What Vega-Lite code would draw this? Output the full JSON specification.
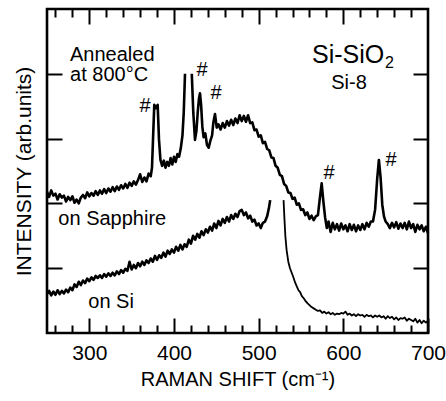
{
"$schema": "https://vega.github.io/schema/vega-lite/v6.json",
"width": 381, "height": 324,
"autosize": {"type": "none"},
"padding": {"left": 47, "top": 9, "right": 18, "bottom": 68},
"background": "white",
"config": {
  "view": {"stroke": null},
  "axis": {"domain": false, "grid": false, "tickColor": "black", "tickWidth": 2, "labelFont": "Liberation Sans", "titleFont": "Liberation Sans", "labelColor": "black", "titleColor": "black", "titleFontWeight": "normal", "labelFlush": false, "labelOverlap": false, "labelBound": false},
  "text": {"font": "Liberation Sans", "color": "black"}
},
"datasets": {
  "sap": [
    {"x":250,"y":2.18,"s":"a"},{"x":252.5,"y":2.10,"s":"a"},{"x":255,"y":2.20,"s":"a"},{"x":257.5,"y":2.12,"s":"a"},{"x":260,"y":2.15,"s":"a"},{"x":262.5,"y":2.06,"s":"a"},{"x":265,"y":2.14,"s":"a"},{"x":267.5,"y":2.09,"s":"a"},{"x":270,"y":2.12,"s":"a"},{"x":272.5,"y":2.03,"s":"a"},{"x":275,"y":2.10,"s":"a"},{"x":277.5,"y":2.05,"s":"a"},{"x":280,"y":2.11,"s":"a"},{"x":282.5,"y":2.01,"s":"a"},{"x":285,"y":2.06,"s":"a"},{"x":287.5,"y":2.00,"s":"a"},{"x":290,"y":2.09,"s":"a"},{"x":292.5,"y":2.13,"s":"a"},{"x":295,"y":2.08,"s":"a"},{"x":297.5,"y":2.17,"s":"a"},{"x":300,"y":2.11,"s":"a"},{"x":302.5,"y":2.16,"s":"a"},{"x":305,"y":2.12,"s":"a"},{"x":307.5,"y":2.19,"s":"a"},{"x":310,"y":2.13,"s":"a"},{"x":312.5,"y":2.20,"s":"a"},{"x":315,"y":2.15,"s":"a"},{"x":317.5,"y":2.22,"s":"a"},{"x":320,"y":2.16,"s":"a"},{"x":322.5,"y":2.23,"s":"a"},{"x":325,"y":2.18,"s":"a"},{"x":327.5,"y":2.25,"s":"a"},{"x":330,"y":2.19,"s":"a"},{"x":332.5,"y":2.26,"s":"a"},{"x":335,"y":2.21,"s":"a"},{"x":337.5,"y":2.28,"s":"a"},{"x":340,"y":2.23,"s":"a"},{"x":342.5,"y":2.30,"s":"a"},{"x":345,"y":2.24,"s":"a"},{"x":347.5,"y":2.32,"s":"a"},{"x":350,"y":2.27,"s":"a"},{"x":352.5,"y":2.34,"s":"a"},{"x":355,"y":2.29,"s":"a"},{"x":357.5,"y":2.36,"s":"a"},{"x":360,"y":2.45,"s":"a"},{"x":362.5,"y":2.33,"s":"a"},{"x":365,"y":2.40,"s":"a"},{"x":367.5,"y":2.34,"s":"a"},{"x":370,"y":2.46,"s":"a"},{"x":372.5,"y":2.42,"s":"a"},{"x":374,"y":2.55,"s":"a"},{"x":375.2,"y":2.98,"s":"a"},{"x":376.7,"y":3.52,"s":"a"},{"x":378.7,"y":3.47,"s":"a"},{"x":380.7,"y":3.52,"s":"a"},{"x":382.3,"y":2.98,"s":"a"},{"x":384,"y":2.67,"s":"a"},{"x":386,"y":2.58,"s":"a"},{"x":388,"y":2.66,"s":"a"},{"x":390,"y":2.55,"s":"a"},{"x":392,"y":2.64,"s":"a"},{"x":394,"y":2.58,"s":"a"},{"x":396,"y":2.70,"s":"a"},{"x":398,"y":2.60,"s":"a"},{"x":400,"y":2.72,"s":"a"},{"x":402,"y":2.64,"s":"a"},{"x":404,"y":2.76,"s":"a"},{"x":406,"y":2.72,"s":"a"},{"x":408,"y":2.85,"s":"a"},{"x":410,"y":3.05,"s":"a"},{"x":411.5,"y":3.40,"s":"a"},{"x":413,"y":4.00,"s":"a"},
    {"x":421,"y":4.00,"s":"b"},{"x":422.8,"y":3.40,"s":"b"},{"x":424.8,"y":2.98,"s":"b"},{"x":426.5,"y":3.12,"s":"b"},{"x":428,"y":3.40,"s":"b"},{"x":429.5,"y":3.62,"s":"b"},{"x":430.7,"y":3.70,"s":"b"},{"x":432,"y":3.52,"s":"b"},{"x":433.5,"y":3.18,"s":"b"},{"x":435,"y":3.02,"s":"b"},{"x":437,"y":3.08,"s":"b"},{"x":439,"y":2.90,"s":"b"},{"x":441,"y":2.86,"s":"b"},{"x":443,"y":2.97,"s":"b"},{"x":445,"y":3.05,"s":"b"},{"x":446.5,"y":3.25,"s":"b"},{"x":448.4,"y":3.38,"s":"b"},{"x":450.5,"y":3.17,"s":"b"},{"x":452.5,"y":3.22,"s":"b"},{"x":455,"y":3.14,"s":"b"},{"x":457.5,"y":3.24,"s":"b"},{"x":460,"y":3.17,"s":"b"},{"x":462.5,"y":3.27,"s":"b"},{"x":465,"y":3.20,"s":"b"},{"x":467.5,"y":3.29,"s":"b"},{"x":470,"y":3.21,"s":"b"},{"x":472.5,"y":3.31,"s":"b"},{"x":475,"y":3.24,"s":"b"},{"x":477.5,"y":3.36,"s":"b"},{"x":480,"y":3.27,"s":"b"},{"x":482.5,"y":3.35,"s":"b"},{"x":485,"y":3.26,"s":"b"},{"x":487.5,"y":3.36,"s":"b"},{"x":490,"y":3.24,"s":"b"},{"x":492.5,"y":3.25,"s":"b"},{"x":495,"y":3.13,"s":"b"},{"x":497.5,"y":3.14,"s":"b"},{"x":500,"y":3.03,"s":"b"},{"x":502.5,"y":3.05,"s":"b"},{"x":505,"y":2.93,"s":"b"},{"x":507.5,"y":2.95,"s":"b"},{"x":510,"y":2.84,"s":"b"},{"x":512.5,"y":2.82,"s":"b"},{"x":515,"y":2.71,"s":"b"},{"x":517.5,"y":2.70,"s":"b"},{"x":520,"y":2.58,"s":"b"},{"x":522.5,"y":2.55,"s":"b"},{"x":525,"y":2.44,"s":"b"},{"x":527.5,"y":2.42,"s":"b"},{"x":530,"y":2.30,"s":"b"},{"x":532.5,"y":2.27,"s":"b"},{"x":535,"y":2.17,"s":"b"},{"x":537.5,"y":2.16,"s":"b"},{"x":540,"y":2.07,"s":"b"},{"x":542.5,"y":2.09,"s":"b"},{"x":545,"y":1.98,"s":"b"},{"x":547.5,"y":2.00,"s":"b"},{"x":550,"y":1.90,"s":"b"},{"x":552.5,"y":1.91,"s":"b"},{"x":555,"y":1.82,"s":"b"},{"x":557.5,"y":1.86,"s":"b"},{"x":560,"y":1.76,"s":"b"},{"x":562.5,"y":1.81,"s":"b"},{"x":565,"y":1.74,"s":"b"},{"x":567.5,"y":1.80,"s":"b"},{"x":570,"y":1.82,"s":"b"},{"x":572,"y":2.05,"s":"b"},{"x":574.4,"y":2.31,"s":"b"},{"x":576.5,"y":2.02,"s":"b"},{"x":578.5,"y":1.78,"s":"b"},{"x":580.5,"y":1.62,"s":"b"},{"x":582.5,"y":1.72,"s":"b"},{"x":585,"y":1.56,"s":"b"},{"x":587.5,"y":1.70,"s":"b"},{"x":590,"y":1.60,"s":"b"},{"x":592.5,"y":1.68,"s":"b"},{"x":595,"y":1.58,"s":"b"},{"x":597.5,"y":1.69,"s":"b"},{"x":600,"y":1.60,"s":"b"},{"x":602.5,"y":1.66,"s":"b"},{"x":605,"y":1.57,"s":"b"},{"x":607.5,"y":1.68,"s":"b"},{"x":610,"y":1.59,"s":"b"},{"x":612.5,"y":1.67,"s":"b"},{"x":615,"y":1.57,"s":"b"},{"x":617.5,"y":1.66,"s":"b"},{"x":620,"y":1.59,"s":"b"},{"x":622.5,"y":1.68,"s":"b"},{"x":625,"y":1.60,"s":"b"},{"x":627.5,"y":1.70,"s":"b"},{"x":630,"y":1.64,"s":"b"},{"x":632.5,"y":1.72,"s":"b"},{"x":635,"y":1.72,"s":"b"},{"x":637.5,"y":1.90,"s":"b"},{"x":640,"y":2.38,"s":"b"},{"x":642,"y":2.67,"s":"b"},{"x":644,"y":2.40,"s":"b"},{"x":646,"y":1.98,"s":"b"},{"x":648,"y":1.80,"s":"b"},{"x":650,"y":1.72,"s":"b"},{"x":652.5,"y":1.68,"s":"b"},{"x":655,"y":1.62,"s":"b"},{"x":657.5,"y":1.70,"s":"b"},{"x":660,"y":1.63,"s":"b"},{"x":662.5,"y":1.71,"s":"b"},{"x":665,"y":1.61,"s":"b"},{"x":667.5,"y":1.69,"s":"b"},{"x":670,"y":1.62,"s":"b"},{"x":672.5,"y":1.70,"s":"b"},{"x":675,"y":1.60,"s":"b"},{"x":677.5,"y":1.72,"s":"b"},{"x":680,"y":1.62,"s":"b"},{"x":682.5,"y":1.68,"s":"b"},{"x":685,"y":1.56,"s":"b"},{"x":687.5,"y":1.67,"s":"b"},{"x":690,"y":1.60,"s":"b"},{"x":692.5,"y":1.66,"s":"b"},{"x":695,"y":1.57,"s":"b"},{"x":697.5,"y":1.64,"s":"b"},{"x":700,"y":1.54,"s":"b"}
  ],
  "si1": [
    {"x":250,"y":0.60},{"x":252.5,"y":0.65},{"x":255,"y":0.58},{"x":257.5,"y":0.64},{"x":260,"y":0.59},{"x":262.5,"y":0.66},{"x":265,"y":0.60},{"x":267.5,"y":0.65},{"x":270,"y":0.61},{"x":272.5,"y":0.67},{"x":275,"y":0.63},{"x":277.5,"y":0.70},{"x":280,"y":0.66},{"x":282.5,"y":0.75},{"x":285,"y":0.71},{"x":287.5,"y":0.79},{"x":290,"y":0.74},{"x":292.5,"y":0.81},{"x":295,"y":0.77},{"x":297.5,"y":0.84},{"x":300,"y":0.80},{"x":302.5,"y":0.86},{"x":305,"y":0.82},{"x":307.5,"y":0.88},{"x":310,"y":0.85},{"x":312.5,"y":0.89},{"x":315,"y":0.85},{"x":317.5,"y":0.91},{"x":320,"y":0.87},{"x":322.5,"y":0.92},{"x":325,"y":0.88},{"x":327.5,"y":0.93},{"x":330,"y":0.89},{"x":332.5,"y":0.95},{"x":335,"y":0.91},{"x":337.5,"y":0.97},{"x":340,"y":0.93},{"x":342.5,"y":0.99},{"x":345,"y":0.96},{"x":347.5,"y":1.10},{"x":350,"y":0.98},{"x":352.5,"y":1.05},{"x":355,"y":1.00},{"x":357.5,"y":1.08},{"x":360,"y":1.03},{"x":362.5,"y":1.10},{"x":365,"y":1.05},{"x":367.5,"y":1.12},{"x":370,"y":1.08},{"x":372.5,"y":1.15},{"x":375,"y":1.10},{"x":377.5,"y":1.19},{"x":380,"y":1.13},{"x":382.5,"y":1.20},{"x":385,"y":1.16},{"x":387.5,"y":1.24},{"x":390,"y":1.18},{"x":392.5,"y":1.27},{"x":395,"y":1.22},{"x":397.5,"y":1.29},{"x":400,"y":1.24},{"x":402.5,"y":1.33},{"x":405,"y":1.27},{"x":407.5,"y":1.36},{"x":410,"y":1.29},{"x":412.5,"y":1.37},{"x":415,"y":1.33},{"x":417.5,"y":1.44},{"x":420,"y":1.38},{"x":422.5,"y":1.50},{"x":425,"y":1.44},{"x":427.5,"y":1.53},{"x":430,"y":1.47},{"x":432.5,"y":1.57},{"x":435,"y":1.51},{"x":437.5,"y":1.60},{"x":440,"y":1.55},{"x":442.5,"y":1.64},{"x":445,"y":1.58},{"x":447.5,"y":1.69},{"x":450,"y":1.62},{"x":452.5,"y":1.73},{"x":455,"y":1.66},{"x":457.5,"y":1.76},{"x":460,"y":1.70},{"x":462.5,"y":1.79},{"x":465,"y":1.72},{"x":467.5,"y":1.82},{"x":470,"y":1.76},{"x":472.5,"y":1.84},{"x":475,"y":1.79},{"x":477.5,"y":1.88},{"x":480,"y":1.90},{"x":482.5,"y":1.82},{"x":485,"y":1.86},{"x":487.5,"y":1.77},{"x":490,"y":1.81},{"x":492.5,"y":1.72},{"x":495,"y":1.75},{"x":497.5,"y":1.66},{"x":500,"y":1.69},{"x":502.5,"y":1.62},{"x":505,"y":1.70},{"x":507.5,"y":1.72},{"x":510,"y":1.80},{"x":512,"y":1.92},{"x":513.6,"y":2.05}
  ],
  "si2": [
    {"x":529.4,"y":2.05},{"x":530.5,"y":1.75},{"x":531.5,"y":1.50},{"x":533,"y":1.28},{"x":535,"y":1.10},{"x":537,"y":1.00},{"x":539,"y":0.93},{"x":541,"y":0.86},{"x":543,"y":0.78},{"x":545,"y":0.72},{"x":547,"y":0.66},{"x":549,"y":0.63},{"x":551,"y":0.57},{"x":553,"y":0.54},{"x":555,"y":0.50},{"x":557.5,"y":0.46},{"x":560,"y":0.43},{"x":562.5,"y":0.40},{"x":565,"y":0.38},{"x":567.5,"y":0.36},{"x":570,"y":0.34},{"x":572.5,"y":0.35},{"x":575,"y":0.31},{"x":577.5,"y":0.33},{"x":580,"y":0.30},{"x":582.5,"y":0.32},{"x":585,"y":0.29},{"x":587.5,"y":0.31},{"x":590,"y":0.28},{"x":592.5,"y":0.30},{"x":595,"y":0.29},{"x":597.5,"y":0.31},{"x":600,"y":0.30},{"x":602.5,"y":0.33},{"x":605,"y":0.28},{"x":607.5,"y":0.30},{"x":610,"y":0.27},{"x":612.5,"y":0.29},{"x":615,"y":0.26},{"x":617.5,"y":0.29},{"x":620,"y":0.27},{"x":622.5,"y":0.28},{"x":625,"y":0.25},{"x":627.5,"y":0.28},{"x":630,"y":0.26},{"x":632.5,"y":0.27},{"x":635,"y":0.24},{"x":637.5,"y":0.27},{"x":640,"y":0.25},{"x":642.5,"y":0.27},{"x":645,"y":0.24},{"x":647.5,"y":0.26},{"x":650,"y":0.22},{"x":652.5,"y":0.26},{"x":655,"y":0.23},{"x":657.5,"y":0.25},{"x":660,"y":0.21},{"x":662.5,"y":0.24},{"x":665,"y":0.20},{"x":667.5,"y":0.23},{"x":670,"y":0.22},{"x":672.5,"y":0.24},{"x":675,"y":0.19},{"x":677.5,"y":0.22},{"x":680,"y":0.20},{"x":682.5,"y":0.18},{"x":685,"y":0.22},{"x":687.5,"y":0.16},{"x":690,"y":0.20},{"x":692.5,"y":0.15},{"x":695,"y":0.19},{"x":697.5,"y":0.16},{"x":700,"y":0.19}
  ]
},
"resolve": {"axis": {"x": "independent", "y": "independent"}},
"layer": [
  {
    "data": {"values": [{"x0": 250, "x1": 700, "y0": 0, "y1": 5}]},
    "mark": {"type": "rect", "filled": false, "stroke": "black", "strokeWidth": 2.6},
    "encoding": {
      "x": {"field": "x0", "type": "quantitative", "scale": {"domain": [250, 700], "nice": false, "zero": false}, "axis": null},
      "x2": {"field": "x1"},
      "y": {"field": "y0", "type": "quantitative", "scale": {"domain": [0, 5], "nice": false, "zero": false}, "axis": null},
      "y2": {"field": "y1"}
    }
  },
  {
    "data": {"name": "sap"},
    "mark": {"type": "line", "color": "black", "strokeWidth": 2.6, "strokeJoin": "round"},
    "encoding": {
      "x": {"field": "x", "type": "quantitative", "scale": {"domain": [250, 700], "nice": false, "zero": false},
        "axis": {"orient": "bottom", "values": [300, 400, 500, 600, 700], "tickSize": -15, "labelFontSize": 21, "labelPadding": 24, "title": "RAMAN SHIFT (cm⁻¹)", "titleFontSize": 20, "titlePadding": 6}},
      "y": {"field": "y", "type": "quantitative", "scale": {"domain": [0, 5], "nice": false, "zero": false},
        "axis": {"orient": "left", "values": [1, 2, 3, 4], "tickSize": -15, "labels": false, "title": "INTENSITY (arb.units)", "titleFontSize": 21, "titlePadding": 12}},
      "detail": {"field": "s"}
    }
  },
  {
    "data": {"name": "si1"},
    "mark": {"type": "line", "color": "black", "strokeWidth": 2.6, "strokeJoin": "round"},
    "encoding": {
      "x": {"field": "x", "type": "quantitative", "scale": {"domain": [250, 700], "nice": false, "zero": false},
        "axis": {"orient": "top", "values": [300, 400, 500, 600], "tickSize": -15, "labels": false, "title": null}},
      "y": {"field": "y", "type": "quantitative", "scale": {"domain": [0, 5], "nice": false, "zero": false},
        "axis": {"orient": "right", "values": [1, 2, 3, 4], "tickSize": -15, "labels": false, "title": null}}
    }
  },
  {
    "data": {"name": "si2"},
    "mark": {"type": "line", "color": "black", "strokeWidth": 1.8, "strokeJoin": "round"},
    "encoding": {
      "x": {"field": "x", "type": "quantitative", "scale": {"domain": [250, 700], "nice": false, "zero": false},
        "axis": {"orient": "bottom", "values": [260, 280, 320, 340, 360, 380, 420, 440, 460, 480, 520, 540, 560, 580, 620, 640, 660, 680], "tickSize": -8, "labels": false, "title": null}},
      "y": {"field": "y", "type": "quantitative", "scale": {"domain": [0, 5], "nice": false, "zero": false}, "axis": null}
    }
  },
  {
    "data": {"values": [
      {"x": 365.7, "y": 3.50, "t": "#"},
      {"x": 433.1, "y": 4.06, "t": "#"},
      {"x": 449.6, "y": 3.70, "t": "#"},
      {"x": 583.1, "y": 2.47, "t": "#"},
      {"x": 656.3, "y": 2.67, "t": "#"}
    ]},
    "mark": {"type": "text", "fontSize": 20, "align": "center", "baseline": "middle"},
    "encoding": {
      "x": {"field": "x", "type": "quantitative", "scale": {"domain": [250, 700], "nice": false, "zero": false},
        "axis": {"orient": "top", "values": [260, 280, 320, 340, 360, 380, 420, 440, 460, 480, 520, 540, 560, 580, 620, 640, 660, 680], "tickSize": -8, "labels": false, "title": null}},
      "y": {"field": "y", "type": "quantitative", "scale": {"domain": [0, 5], "nice": false, "zero": false}, "axis": null},
      "text": {"field": "t"}
    }
  },
  {
    "data": {"values": [
      {"x": 277.2, "y": 4.29, "t": "Annealed"},
      {"x": 277.2, "y": 3.98, "t": "at 800°C"},
      {"x": 263.4, "y": 1.76, "t": "on Sapphire"},
      {"x": 298.8, "y": 0.48, "t": "on Si"}
    ]},
    "mark": {"type": "text", "fontSize": 20, "align": "left", "baseline": "middle"},
    "encoding": {
      "x": {"field": "x", "type": "quantitative", "scale": {"domain": [250, 700], "nice": false, "zero": false}, "axis": null},
      "y": {"field": "y", "type": "quantitative", "scale": {"domain": [0, 5], "nice": false, "zero": false}, "axis": null},
      "text": {"field": "t"}
    }
  },
  {
    "data": {"values": [{"x": 563.0, "y": 4.29, "t": "Si-SiO"}]},
    "mark": {"type": "text", "fontSize": 25, "align": "left", "baseline": "middle"},
    "encoding": {
      "x": {"field": "x", "type": "quantitative", "scale": {"domain": [250, 700], "nice": false, "zero": false}, "axis": null},
      "y": {"field": "y", "type": "quantitative", "scale": {"domain": [0, 5], "nice": false, "zero": false}, "axis": null},
      "text": {"field": "t"}
    }
  },
  {
    "data": {"values": [{"x": 654.5, "y": 4.17, "t": "2"}]},
    "mark": {"type": "text", "fontSize": 16, "align": "center", "baseline": "middle"},
    "encoding": {
      "x": {"field": "x", "type": "quantitative", "scale": {"domain": [250, 700], "nice": false, "zero": false}, "axis": null},
      "y": {"field": "y", "type": "quantitative", "scale": {"domain": [0, 5], "nice": false, "zero": false}, "axis": null},
      "text": {"field": "t"}
    }
  },
  {
    "data": {"values": [{"x": 606.7, "y": 3.86, "t": "Si-8"}]},
    "mark": {"type": "text", "fontSize": 20, "align": "center", "baseline": "middle"},
    "encoding": {
      "x": {"field": "x", "type": "quantitative", "scale": {"domain": [250, 700], "nice": false, "zero": false}, "axis": null},
      "y": {"field": "y", "type": "quantitative", "scale": {"domain": [0, 5], "nice": false, "zero": false}, "axis": null},
      "text": {"field": "t"}
    }
  }
]
}
